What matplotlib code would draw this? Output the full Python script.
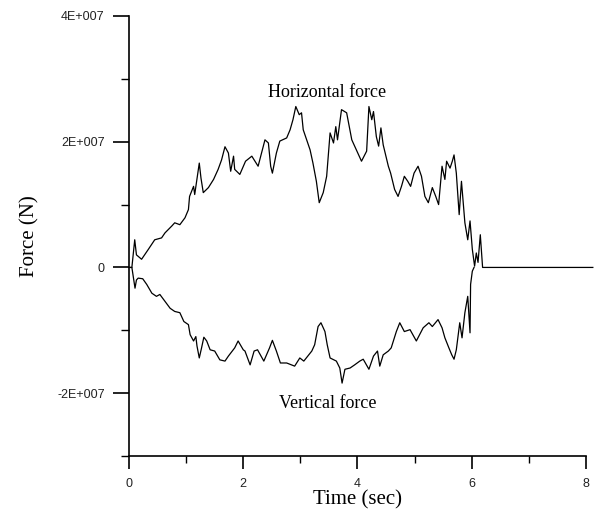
import matplotlib
matplotlib.use('Agg')
import matplotlib.pyplot as plt
from matplotlib.ticker import MultipleLocator, FuncFormatter
import numpy as np

# horizontal force: time (sec), force (units of 1E+007 N)
t_horiz = [0.0, 0.05, 0.10, 0.13, 0.22, 0.34, 0.45, 0.57, 0.63, 0.75, 0.80, 0.89, 0.98,
           1.04, 1.06, 1.13, 1.15, 1.23, 1.26, 1.30, 1.39, 1.48, 1.56, 1.62, 1.68, 1.74,
           1.78, 1.83, 1.85, 1.94, 2.04, 2.15, 2.26, 2.38, 2.44, 2.48, 2.51, 2.58, 2.64,
           2.76, 2.82, 2.87, 2.92, 2.98, 3.02, 3.05, 3.17, 3.22, 3.28, 3.33, 3.40, 3.46,
           3.52, 3.58, 3.62, 3.65, 3.72, 3.81, 3.90, 3.98, 4.07, 4.16, 4.20, 4.25, 4.28,
           4.33, 4.37, 4.41, 4.45, 4.54, 4.58, 4.65, 4.71, 4.77, 4.82, 4.88, 4.93, 4.99,
           5.06, 5.12, 5.18, 5.24, 5.31, 5.37, 5.42, 5.48, 5.53, 5.56, 5.62, 5.66, 5.69,
           5.73, 5.78, 5.82, 5.88, 5.93, 5.97, 6.01, 6.05, 6.08, 6.11, 6.15, 6.19, 8.12]
f_horiz = [0.0, 0.0, 0.44, 0.20, 0.13, 0.29, 0.44, 0.47, 0.55, 0.66, 0.71, 0.68, 0.79,
           0.92, 1.13, 1.29, 1.16, 1.66, 1.42, 1.19, 1.27, 1.40, 1.56, 1.71, 1.92, 1.82,
           1.53, 1.77, 1.56, 1.48, 1.69, 1.77, 1.61, 2.03, 1.98, 1.61, 1.50, 1.82, 2.01,
           2.06, 2.19, 2.35, 2.56, 2.43, 2.46, 2.19, 1.87, 1.66, 1.37, 1.03, 1.19, 1.45,
           2.14, 1.98, 2.24, 2.03, 2.51, 2.46, 2.03, 1.87, 1.69, 1.85, 2.56, 2.35, 2.48,
           2.08, 1.93, 2.22, 1.95, 1.61, 1.50, 1.24, 1.13, 1.29, 1.45, 1.37, 1.29, 1.50,
           1.61, 1.45, 1.13, 1.03, 1.27, 1.13, 1.00, 1.61, 1.40, 1.69, 1.58, 1.69, 1.79,
           1.50, 0.84, 1.37, 0.71, 0.44, 0.74, 0.29, 0.02, 0.23, 0.08, 0.52, 0.0, 0.0]

# vertical force
t_vert = [0.0, 0.05, 0.105, 0.13, 0.16, 0.24, 0.31, 0.40, 0.48, 0.54, 0.63, 0.72, 0.80,
          0.89, 0.96, 1.04, 1.07, 1.13, 1.17, 1.19, 1.23, 1.27, 1.31, 1.36, 1.42, 1.50,
          1.59, 1.68, 1.74, 1.85, 1.91, 2.00, 2.03, 2.12, 2.19, 2.25, 2.36, 2.46, 2.51,
          2.58, 2.65, 2.76, 2.90, 2.99, 3.06, 3.20, 3.25, 3.31, 3.36, 3.43, 3.47, 3.52,
          3.63, 3.69, 3.73, 3.78, 3.87, 3.95, 4.04, 4.10, 4.20, 4.28, 4.35, 4.39, 4.45,
          4.54, 4.59, 4.68, 4.74, 4.82, 4.92, 5.03, 5.15, 5.25, 5.31, 5.41, 5.48, 5.53,
          5.60, 5.65, 5.69, 5.73, 5.79, 5.83, 5.88, 5.93, 5.97, 5.98, 6.01, 6.04]
f_vert = [0.0, 0.0, -0.33, -0.20, -0.17, -0.18, -0.27, -0.41, -0.46, -0.43, -0.54, -0.65,
          -0.70, -0.72, -0.86, -0.91, -1.07, -1.17, -1.10, -1.25, -1.44, -1.28, -1.11,
          -1.17, -1.31, -1.33, -1.47, -1.49, -1.41, -1.28, -1.17, -1.31, -1.33, -1.55,
          -1.33, -1.31, -1.49, -1.28, -1.16, -1.33, -1.52, -1.52, -1.57, -1.44, -1.49,
          -1.33, -1.23, -0.94, -0.88, -1.02, -1.23, -1.44, -1.49, -1.60, -1.84, -1.62,
          -1.60, -1.55, -1.49, -1.46, -1.62, -1.41, -1.33, -1.57, -1.39, -1.33, -1.28,
          -1.02, -0.88, -1.02, -0.99, -1.17, -0.96, -0.88, -0.94, -0.83, -0.96, -1.12,
          -1.28, -1.39, -1.46, -1.31, -0.88, -1.12, -0.72, -0.46, -1.04, -0.27, -0.06, 0.0]

scale = 1e7

fig = plt.figure(figsize=(5.94, 5.11), dpi=100)
ax = fig.add_axes([0.2172, 0.1076, 0.7693, 0.8611])

ax.plot(t_horiz, np.array(f_horiz) * scale, color='black', lw=0.9, clip_on=False)
ax.plot(t_vert, np.array(f_vert) * scale, color='black', lw=0.9, clip_on=False)

ax.set_xlim(0, 8)
ax.set_ylim(-3e7, 4e7)

ax.spines['top'].set_visible(False)
ax.spines['right'].set_visible(False)
ax.spines['left'].set_linewidth(1.2)
ax.spines['bottom'].set_linewidth(1.2)

ax.xaxis.set_major_locator(MultipleLocator(2))
ax.xaxis.set_minor_locator(MultipleLocator(1))
ax.yaxis.set_major_locator(MultipleLocator(2e7))
ax.yaxis.set_minor_locator(MultipleLocator(1e7))


def fmt_y(v, pos):
    if abs(v) < 1:
        return '0'
    return '%dE+007' % round(v / 1e7)


ax.yaxis.set_major_formatter(FuncFormatter(fmt_y))
ax.tick_params(axis='x', which='major', direction='out', length=9.5, width=1.2, pad=6.5)
ax.tick_params(axis='x', which='minor', direction='out', length=5, width=1.0)
ax.tick_params(axis='y', which='major', direction='out', length=11.5, width=1.2, pad=6)
ax.tick_params(axis='y', which='minor', direction='out', length=5.5, width=1.0)
for lab in ax.get_xticklabels() + ax.get_yticklabels():
    lab.set_family('Liberation Sans')
    lab.set_fontsize(9)
    lab.set_color('#222222')

ax.set_xlabel('Time (sec)', family='Liberation Serif', fontsize=15, labelpad=0)
ax.set_ylabel('Force (N)', family='Liberation Serif', fontsize=15, labelpad=12.5)

ax.text(3.46, 2.79e7, 'Horizontal force', family='Liberation Serif', fontsize=13,
        ha='center', va='center')
ax.text(3.48, -2.16e7, 'Vertical force', family='Liberation Serif', fontsize=13,
        ha='center', va='center')

fig.savefig('out.png', dpi=100)
